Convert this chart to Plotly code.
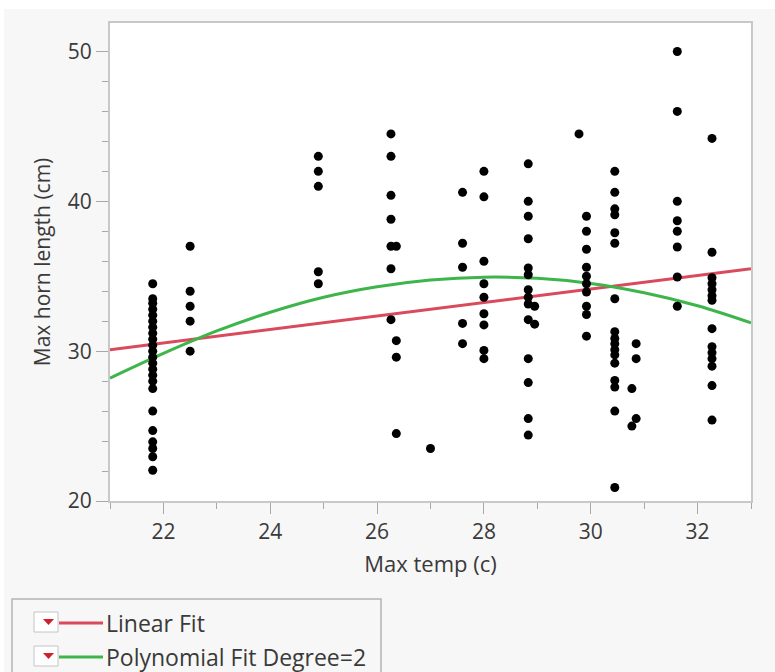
import plotly.graph_objects as go

# ---- data ----
temps = [21.8, 22.5, 24.9, 26.26, 26.36, 27.0, 27.6, 28.0, 28.83, 28.95,
         29.78, 29.92, 30.45, 30.77, 30.85, 31.62, 32.27]
horn_lengths = [
    [34.5, 33.5, 33.2, 32.8, 32.4, 32.0, 31.6, 31.2, 30.8, 30.4, 30.0, 29.6,
     29.2, 28.8, 28.4, 28.0, 27.5, 26.0, 24.7, 23.95, 23.5, 22.95, 22.05],
    [37.0, 34.0, 33.0, 32.0, 30.0],
    [43.0, 42.0, 41.0, 35.3, 34.5],
    [44.5, 43.0, 40.4, 38.8, 37.0, 35.5, 32.1],
    [37.0, 30.7, 29.6, 24.5],
    [23.5],
    [40.6, 37.2, 35.6, 31.85, 30.5],
    [42.0, 40.3, 36.0, 34.5, 33.6, 32.5, 31.75, 30.05, 29.5],
    [42.5, 40.0, 39.0, 37.5, 35.55, 35.1, 34.1, 33.6, 33.15, 32.1, 29.5,
     27.9, 25.5, 24.4],
    [33.0, 31.8],
    [44.5],
    [39.0, 38.0, 36.8, 35.6, 35.0, 34.5, 33.95, 33.0, 32.45, 31.0],
    [42.0, 40.6, 39.5, 39.1, 37.9, 37.2, 33.5, 31.3, 30.85, 30.5, 30.1,
     29.75, 29.2, 28.05, 27.6, 26.0, 20.9],
    [27.5, 25.0],
    [30.5, 29.5, 25.5],
    [50.0, 46.0, 40.0, 38.7, 38.0, 36.95, 34.95, 33.0],
    [44.2, 36.6, 34.9, 34.5, 34.1, 33.7, 33.4, 31.5, 30.3, 29.9, 29.5, 29.0,
     27.7, 25.4],
]

linear_x = [21, 33]
linear_y = [30.1, 35.5]
poly_x = [21, 22, 23, 24, 25, 26, 27, 28, 29, 30, 31, 32, 33]
poly_y = [28.2, 29.85, 31.35, 32.6, 33.6, 34.3, 34.75, 34.94, 34.86, 34.52,
          33.9, 33.03, 31.89]

x_ticks = [22, 24, 26, 28, 30, 32]
y_ticks = [20, 30, 40, 50]
legend_labels = ["Linear Fit", "Polynomial Fit Degree=2"]

RED = "#d84a5c"
GREEN = "#3db54a"
FONT = "Open Sans"
TXT = "#3a3a3a"

xs, ys = [], []
for t, vals in zip(temps, horn_lengths):
    for v in vals:
        xs.append(t)
        ys.append(v)

fig = go.Figure()
fig.add_trace(go.Scatter(x=linear_x, y=linear_y, mode="lines",
                         line=dict(color=RED, width=3), hoverinfo="skip"))
fig.add_trace(go.Scatter(x=poly_x, y=poly_y, mode="lines",
                         line=dict(color=GREEN, width=3, shape="spline"),
                         hoverinfo="skip"))
fig.add_trace(go.Scatter(x=xs, y=ys, mode="markers",
                         marker=dict(color="black", size=9)))

# layout geometry (pixels)
L, R, T, B = 110, 751, 23, 501
W, H = 775, 672


def fx(px):
    return (px - L) / (R - L)


def fy(py):
    return (B - py) / (B - T)


shapes = []
# white strips at top / left edge of the screenshot
shapes.append(dict(type="rect", xref="paper", yref="paper", layer="above",
                   x0=fx(0), x1=fx(W), y0=fy(0), y1=fy(9),
                   line=dict(width=0), fillcolor="white"))
shapes.append(dict(type="rect", xref="paper", yref="paper", layer="above",
                   x0=fx(0), x1=fx(4), y0=fy(0), y1=fy(H),
                   line=dict(width=0), fillcolor="white"))
# legend box
shapes.append(dict(type="rect", xref="paper", yref="paper", layer="above",
                   x0=fx(12), x1=fx(381), y0=fy(599), y1=fy(690),
                   line=dict(color="#b4b4b4", width=1.5), fillcolor="#f7f7f7"))
annotations = []
for i, (label, col) in enumerate(zip(legend_labels, [RED, GREEN])):
    cy = 622 + i * 34
    shapes.append(dict(type="rect", xref="paper", yref="paper", layer="above",
                       x0=fx(34), x1=fx(58), y0=fy(cy - 10), y1=fy(cy + 10),
                       line=dict(color="#c4c4c4", width=1), fillcolor="#ffffff"))
    path = "M {} {} L {} {} L {} {} Z".format(
        fx(43), fy(cy - 3), fx(54), fy(cy - 3), fx(48.5), fy(cy + 3))
    shapes.append(dict(type="path", xref="paper", yref="paper", layer="above",
                       path=path, line=dict(width=0), fillcolor="#d0202a"))
    shapes.append(dict(type="line", xref="paper", yref="paper", layer="above",
                       x0=fx(59), x1=fx(103), y0=fy(cy + 1), y1=fy(cy + 1),
                       line=dict(color=col, width=3)))
    annotations.append(dict(text=label, xref="paper", yref="paper",
                            x=fx(104), y=fy(cy + 1), xanchor="left",
                            yanchor="middle", showarrow=False,
                            font=dict(family=FONT, size=23, color=TXT)))

axis_common = dict(
    showgrid=False, zeroline=False, showline=True, linecolor="#c8c8c8",
    linewidth=2, mirror=True, ticks="outside", tickcolor="#a8a8a8",
    tickwidth=1, tickfont=dict(family=FONT, size=21, color=TXT),
)

fig.update_layout(
    width=W, height=H,
    margin=dict(l=L, r=W - R, t=T, b=H - B),
    paper_bgcolor="#f7f7f7", plot_bgcolor="white",
    showlegend=False,
    shapes=shapes, annotations=annotations,
    xaxis=dict(range=[21, 33], tickvals=x_ticks, ticklen=11,
               minor=dict(dtick=1, tick0=21, ticklen=6, tickcolor="#a8a8a8",
                          ticks="outside"),
               title=dict(text="Max temp (c)", standoff=12,
                          font=dict(family=FONT, size=22, color=TXT)),
               **axis_common),
    yaxis=dict(range=[20, 51.9], tickvals=y_ticks, ticklen=12,
               minor=dict(dtick=2, tick0=20, ticklen=6, tickcolor="#a8a8a8",
                          ticks="outside"),
               title=dict(text="Max horn length (cm)", standoff=11,
                          font=dict(family=FONT, size=21, color=TXT)),
               **axis_common),
)

fig.write_html("out.html")
